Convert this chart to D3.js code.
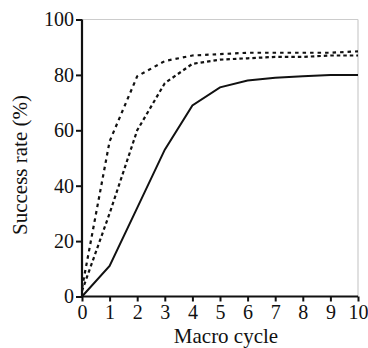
<!DOCTYPE html>
<html><head><meta charset="utf-8">
<script src="https://cdn.jsdelivr.net/npm/d3@7"></script>
<style>body{margin:0;background:#fff}svg{display:block}text{font-family:"Liberation Serif","Times New Roman",serif;fill:#111}</style>
</head><body><svg id="c" width="368" height="348"></svg>
<script>
const cycles = [0,1,2,3,4,5,6,7,8,9,10];
const solid = [0,11,32,53,69,75.5,78,79,79.5,80,80];
const dashUpper = [3,56,79.5,85,87,87.5,88,88,88,88,88.5];
const dashLower = [2,30,60,77,84,85.5,86,86.5,86.5,87,87];
const xTicks = [0,1,2,3,4,5,6,7,8,9,10];
const yTicks = [0,20,40,60,80,100];

const svg = d3.select("#c");
const x = d3.scaleLinear().domain([0,10]).range([82,358]);
const y = d3.scaleLinear().domain([0,100]).range([296.5,19.5]);

svg.append("line").attr("x1",82).attr("x2",x(10)).attr("y1",y(100)).attr("y2",y(100)).attr("stroke","#ccc").attr("stroke-width",1.2);
svg.append("line").attr("x1",x(10)).attr("x2",x(10)).attr("y1",y(100)).attr("y2",y(0)).attr("stroke","#ccc").attr("stroke-width",1.2);

const line = d3.line().x((d,i)=>x(cycles[i])).y(d=>y(d));
svg.append("path").datum(solid).attr("d",line).attr("fill","none").attr("stroke","#111").attr("stroke-width",2);
svg.append("path").datum(dashUpper).attr("d",line).attr("fill","none").attr("stroke","#111").attr("stroke-width",2.2).attr("stroke-dasharray","3.5,4");
svg.append("path").datum(dashLower).attr("d",line).attr("fill","none").attr("stroke","#111").attr("stroke-width",2.2).attr("stroke-dasharray","3.5,3");

const xa = svg.append("g").attr("transform",`translate(0,${y(0)})`)
  .call(d3.axisBottom(x).tickValues(xTicks).tickSize(5).tickPadding(3).tickFormat(d3.format("d")));
const ya = svg.append("g").attr("transform",`translate(${x(0)},0)`)
  .call(d3.axisLeft(y).tickValues(yTicks).tickSize(6).tickPadding(2).tickFormat(d3.format("d")));
[xa,ya].forEach(g=>{
  g.attr("font-family",null).attr("font-size",null);
  g.select(".domain").attr("stroke","#111").attr("stroke-width",2.2);
  g.selectAll(".tick line").attr("stroke","#111").attr("stroke-width",2);
  g.selectAll(".tick text").style("font-size","20px").style("font-family","'Liberation Serif', serif").attr("fill","#111");
});
xa.select(".domain").attr("d",`M${x(0)},0H${x(10)}`);
ya.select(".domain").attr("d",`M0,${y(0)}V${y(100)}`);

svg.append("text").attr("x",226).attr("y",343).attr("text-anchor","middle").style("font-size","21px").text("Macro cycle");
svg.append("text").attr("transform","translate(27,165) rotate(-90)").attr("text-anchor","middle").style("font-size","21px").text("Success rate (%)");
</script></body></html>
